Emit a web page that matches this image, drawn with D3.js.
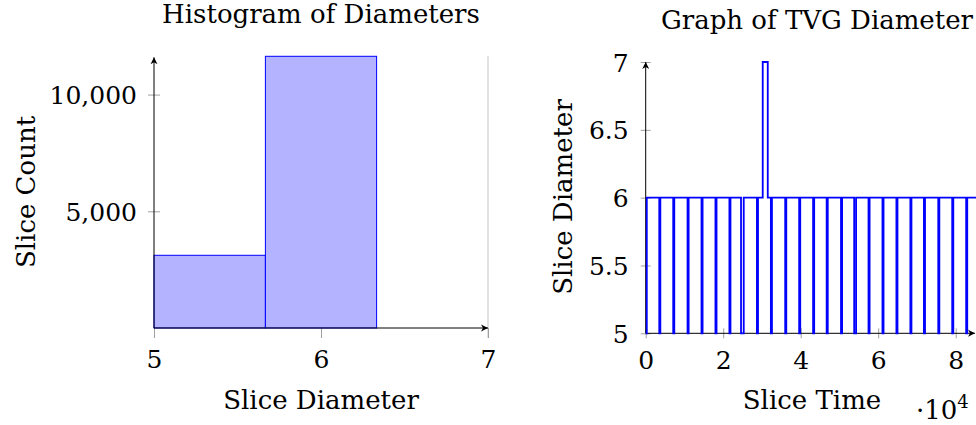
<!DOCTYPE html>
<html>
<head>
<meta charset="utf-8">
<title>Slice diameters</title>
<script src="https://cdn.jsdelivr.net/npm/d3@7"></script>
<style>
    body { margin: 0; background: #fff; }
    text { font-family: "DejaVu Serif", serif; font-size: 26px; fill: #000; }
    .tick text { font-size: 25px; }
    .tick line { stroke: #a0a0a0; stroke-width: 1; }
    .axisline { stroke: #000; stroke-width: 1; fill: none; }
    .bar { fill: #b3b3ff; stroke: #0000ff; stroke-width: 1; }
    .step { fill: none; stroke: #0000ff; stroke-width: 1.8; }
</style>
</head>
<body>
<svg id="chart" width="976" height="425"></svg>
<script>
// histogram: bin edges and counts
var binEdges = [5, 5.667, 6.333, 7];
var binCounts = [3115, 11640, 0];
var histXTicks = [5, 6, 7];
var histYTicks = [5000, 10000];

// time varying graph diameter (step points)
var sliceTime = [0, 280, 3500, 3780, 7100, 7380, 10800, 11080, 14400, 14680,
    18000, 18280, 21600, 21880, 24600, 25300, 28700, 28980, 30200, 31500,
    32300, 32580, 36000, 36280, 39600, 39880, 43200, 43480, 46700, 46980,
    50400, 50680, 53800, 54300, 57500, 57780, 61100, 61380, 64700, 64980,
    68300, 68580, 71800, 72080, 75500, 75780, 79100, 79380, 82700, 82980, 86400];
var sliceDiam = [5, 6, 5, 6, 5, 6, 5, 6, 5, 6,
    5, 6, 5, 6, 5, 6, 5, 6, 7, 6,
    5, 6, 5, 6, 5, 6, 5, 6, 5, 6,
    5, 6, 5, 6, 5, 6, 5, 6, 5, 6,
    5, 6, 5, 6, 5, 6, 5, 6, 5, 6, 6];
var tvgXTicks = [0, 20000, 40000, 60000, 80000];
var tvgYTicks = [5, 5.5, 6, 6.5, 7];

var svg = d3.select('#chart');

var defs = svg.append('defs');
defs.append('marker')
    .attr('id', 'arrow')
    .attr('viewBox', '-8 -4 9 8')
    .attr('refX', 0).attr('refY', 0)
    .attr('markerWidth', 9).attr('markerHeight', 8)
    .attr('markerUnits', 'userSpaceOnUse')
    .attr('orient', 'auto')
    .append('path')
    .attr('d', 'M0,0 L-7,-3.5 L-5,0 L-7,3.5 Z')
    .attr('fill', '#000');

function crossTicks(g, horiz, half) {
    g.select('.domain').remove();
    if (horiz) g.selectAll('.tick line').attr('y1', -half).attr('y2', half);
    else g.selectAll('.tick line').attr('x1', -half).attr('x2', half);
}

// ---------- left: histogram ----------
var hx = d3.scaleLinear().domain([5, 7]).range([154, 488]);
var hy = d3.scaleLinear().domain([0, 11640]).range([328, 56.3]);

// grey line at x = 7
svg.append('line')
    .attr('x1', hx(7)).attr('x2', hx(7))
    .attr('y1', hy(11640)).attr('y2', hy(0) + 10)
    .attr('stroke', '#cfcfcf').attr('stroke-width', 1.2);

var hxAxis = svg.append('g')
    .attr('transform', 'translate(0,' + hy(0) + ')')
    .call(d3.axisBottom(hx).tickValues(histXTicks).tickSize(10).tickFormat(d3.format('d')));
hxAxis.select('.domain').remove();
hxAxis.selectAll('.tick line').attr('y1', 0).attr('y2', 10);
hxAxis.selectAll('text').attr('y', 40).attr('dy', null);

var hyAxis = svg.append('g')
    .attr('transform', 'translate(' + hx(5) + ',0)')
    .call(d3.axisLeft(hy).tickValues(histYTicks).tickSize(6).tickFormat(d3.format(',')));
crossTicks(hyAxis, false, 6);
hyAxis.selectAll('text').attr('x', -17).attr('dy', '0.36em');

svg.selectAll('.bar')
    .data(binCounts)
    .enter().append('rect')
    .attr('class', 'bar')
    .attr('x', function (d, i) { return hx(binEdges[i]); })
    .attr('width', function (d, i) { return hx(binEdges[i + 1]) - hx(binEdges[i]); })
    .attr('y', function (d) { return hy(d); })
    .attr('height', function (d) { return hy(0) - hy(d); });

svg.append('line').attr('class', 'axisline')
    .attr('x1', hx(5)).attr('x2', hx(7))
    .attr('y1', hy(0)).attr('y2', hy(0))
    .attr('marker-end', 'url(#arrow)');
svg.append('line').attr('class', 'axisline')
    .attr('x1', hx(5)).attr('x2', hx(5))
    .attr('y1', hy(0)).attr('y2', hy(11640) + 1)
    .attr('marker-end', 'url(#arrow)');

svg.append('text').attr('x', 321).attr('y', 23)
    .attr('text-anchor', 'middle').text('Histogram of Diameters');
svg.append('text').attr('x', 321).attr('y', 409)
    .attr('text-anchor', 'middle').text('Slice Diameter');
svg.append('text')
    .attr('transform', 'translate(35,192) rotate(-90)')
    .attr('text-anchor', 'middle').text('Slice Count');

// ---------- right: TVG diameter over time ----------
var tx = d3.scaleLinear().domain([0, 86400]).range([645.7, 980.5]);
var ty = d3.scaleLinear().domain([5, 7]).range([333.3, 62]);

var txAxis = svg.append('g')
    .attr('transform', 'translate(0,' + ty(5) + ')')
    .call(d3.axisBottom(tx).tickValues(tvgXTicks).tickSize(5)
        .tickFormat(function (d) { return d / 10000; }));
crossTicks(txAxis, true, 5);
txAxis.selectAll('text').attr('y', 36).attr('dy', null);

var tyAxis = svg.append('g')
    .attr('transform', 'translate(' + tx(0) + ',0)')
    .call(d3.axisLeft(ty).tickValues(tvgYTicks).tickSize(5)
        .tickFormat(function (d) { return d; }));
crossTicks(tyAxis, false, 5);
tyAxis.selectAll('text').attr('x', -17).attr('dy', '0.36em');

var step = d3.line()
    .x(function (d, i) { return tx(sliceTime[i]); })
    .y(function (d) { return ty(d); })
    .curve(d3.curveStepAfter);

svg.append('line').attr('class', 'axisline')
    .attr('x1', tx(0)).attr('x2', 975)
    .attr('y1', ty(5)).attr('y2', ty(5))
    .attr('marker-end', 'url(#arrow)');
svg.append('line').attr('class', 'axisline')
    .attr('x1', tx(0)).attr('x2', tx(0))
    .attr('y1', ty(5)).attr('y2', ty(7))
    .attr('marker-end', 'url(#arrow)');

svg.append('path')
    .datum(sliceDiam)
    .attr('class', 'step')
    .attr('d', step);

svg.append('text').attr('x', 817).attr('y', 29)
    .attr('text-anchor', 'middle').text('Graph of TVG Diameter');
svg.append('text').attr('x', 812).attr('y', 409)
    .attr('text-anchor', 'middle').text('Slice Time');
svg.append('text')
    .attr('transform', 'translate(572,197) rotate(-90)')
    .attr('text-anchor', 'middle').text('Slice Diameter');

var mult = svg.append('text').attr('x', 916).attr('y', 419);
mult.append('tspan').text('\u00b710');
mult.append('tspan').attr('dy', -11).attr('font-size', 18).text('4');
</script>
</body>
</html>
